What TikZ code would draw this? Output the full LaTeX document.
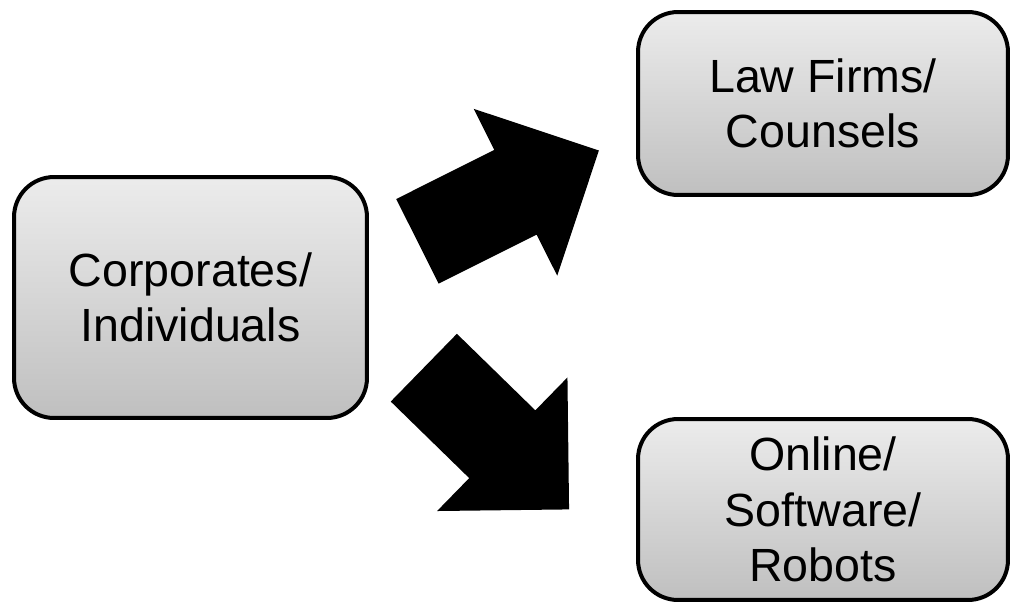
\documentclass[tikz,border=0pt]{standalone}
\usepackage{fontspec}
\setmainfont{Liberation Sans}
\usetikzlibrary{positioning,shapes.arrows}

\begin{document}
\begin{tikzpicture}[x=0.02cm,y=-0.02cm,
    box/.style={rectangle,draw,line width=0.08cm,rounded corners=0.8cm,top color=gray!15,bottom color=gray!50,align=center,font=\fontsize{26.5}{31.5}\selectfont,inner sep=0pt},
    bigarrow/.style={single arrow,fill=black,inner xsep=0pt,inner ysep=0.94cm,minimum height=4.06cm,single arrow head extend=0.92cm,single arrow tip angle=90}]
    \useasboundingbox (0,0) rectangle (1011,603);
    \node[box,minimum width=7.06cm,minimum height=4.82cm] (corp) at (190.5,297.5) {Corporates/\\Individuals};
    \node[box,minimum width=7.4cm,minimum height=3.66cm] (law) at (823,103.5) {Law Firms/\\Counsels};
    \node[box,minimum width=7.4cm,minimum height=3.62cm] (online) at (823,509.5) {Online/\\Software/\\Robots};
    \node[bigarrow,rotate=26.6] (toLaw) at (487,206.5) {};
    \node[bigarrow,rotate=-44.3] (toOnline) at (479.5,422) {};
\end{tikzpicture}
\end{document}
